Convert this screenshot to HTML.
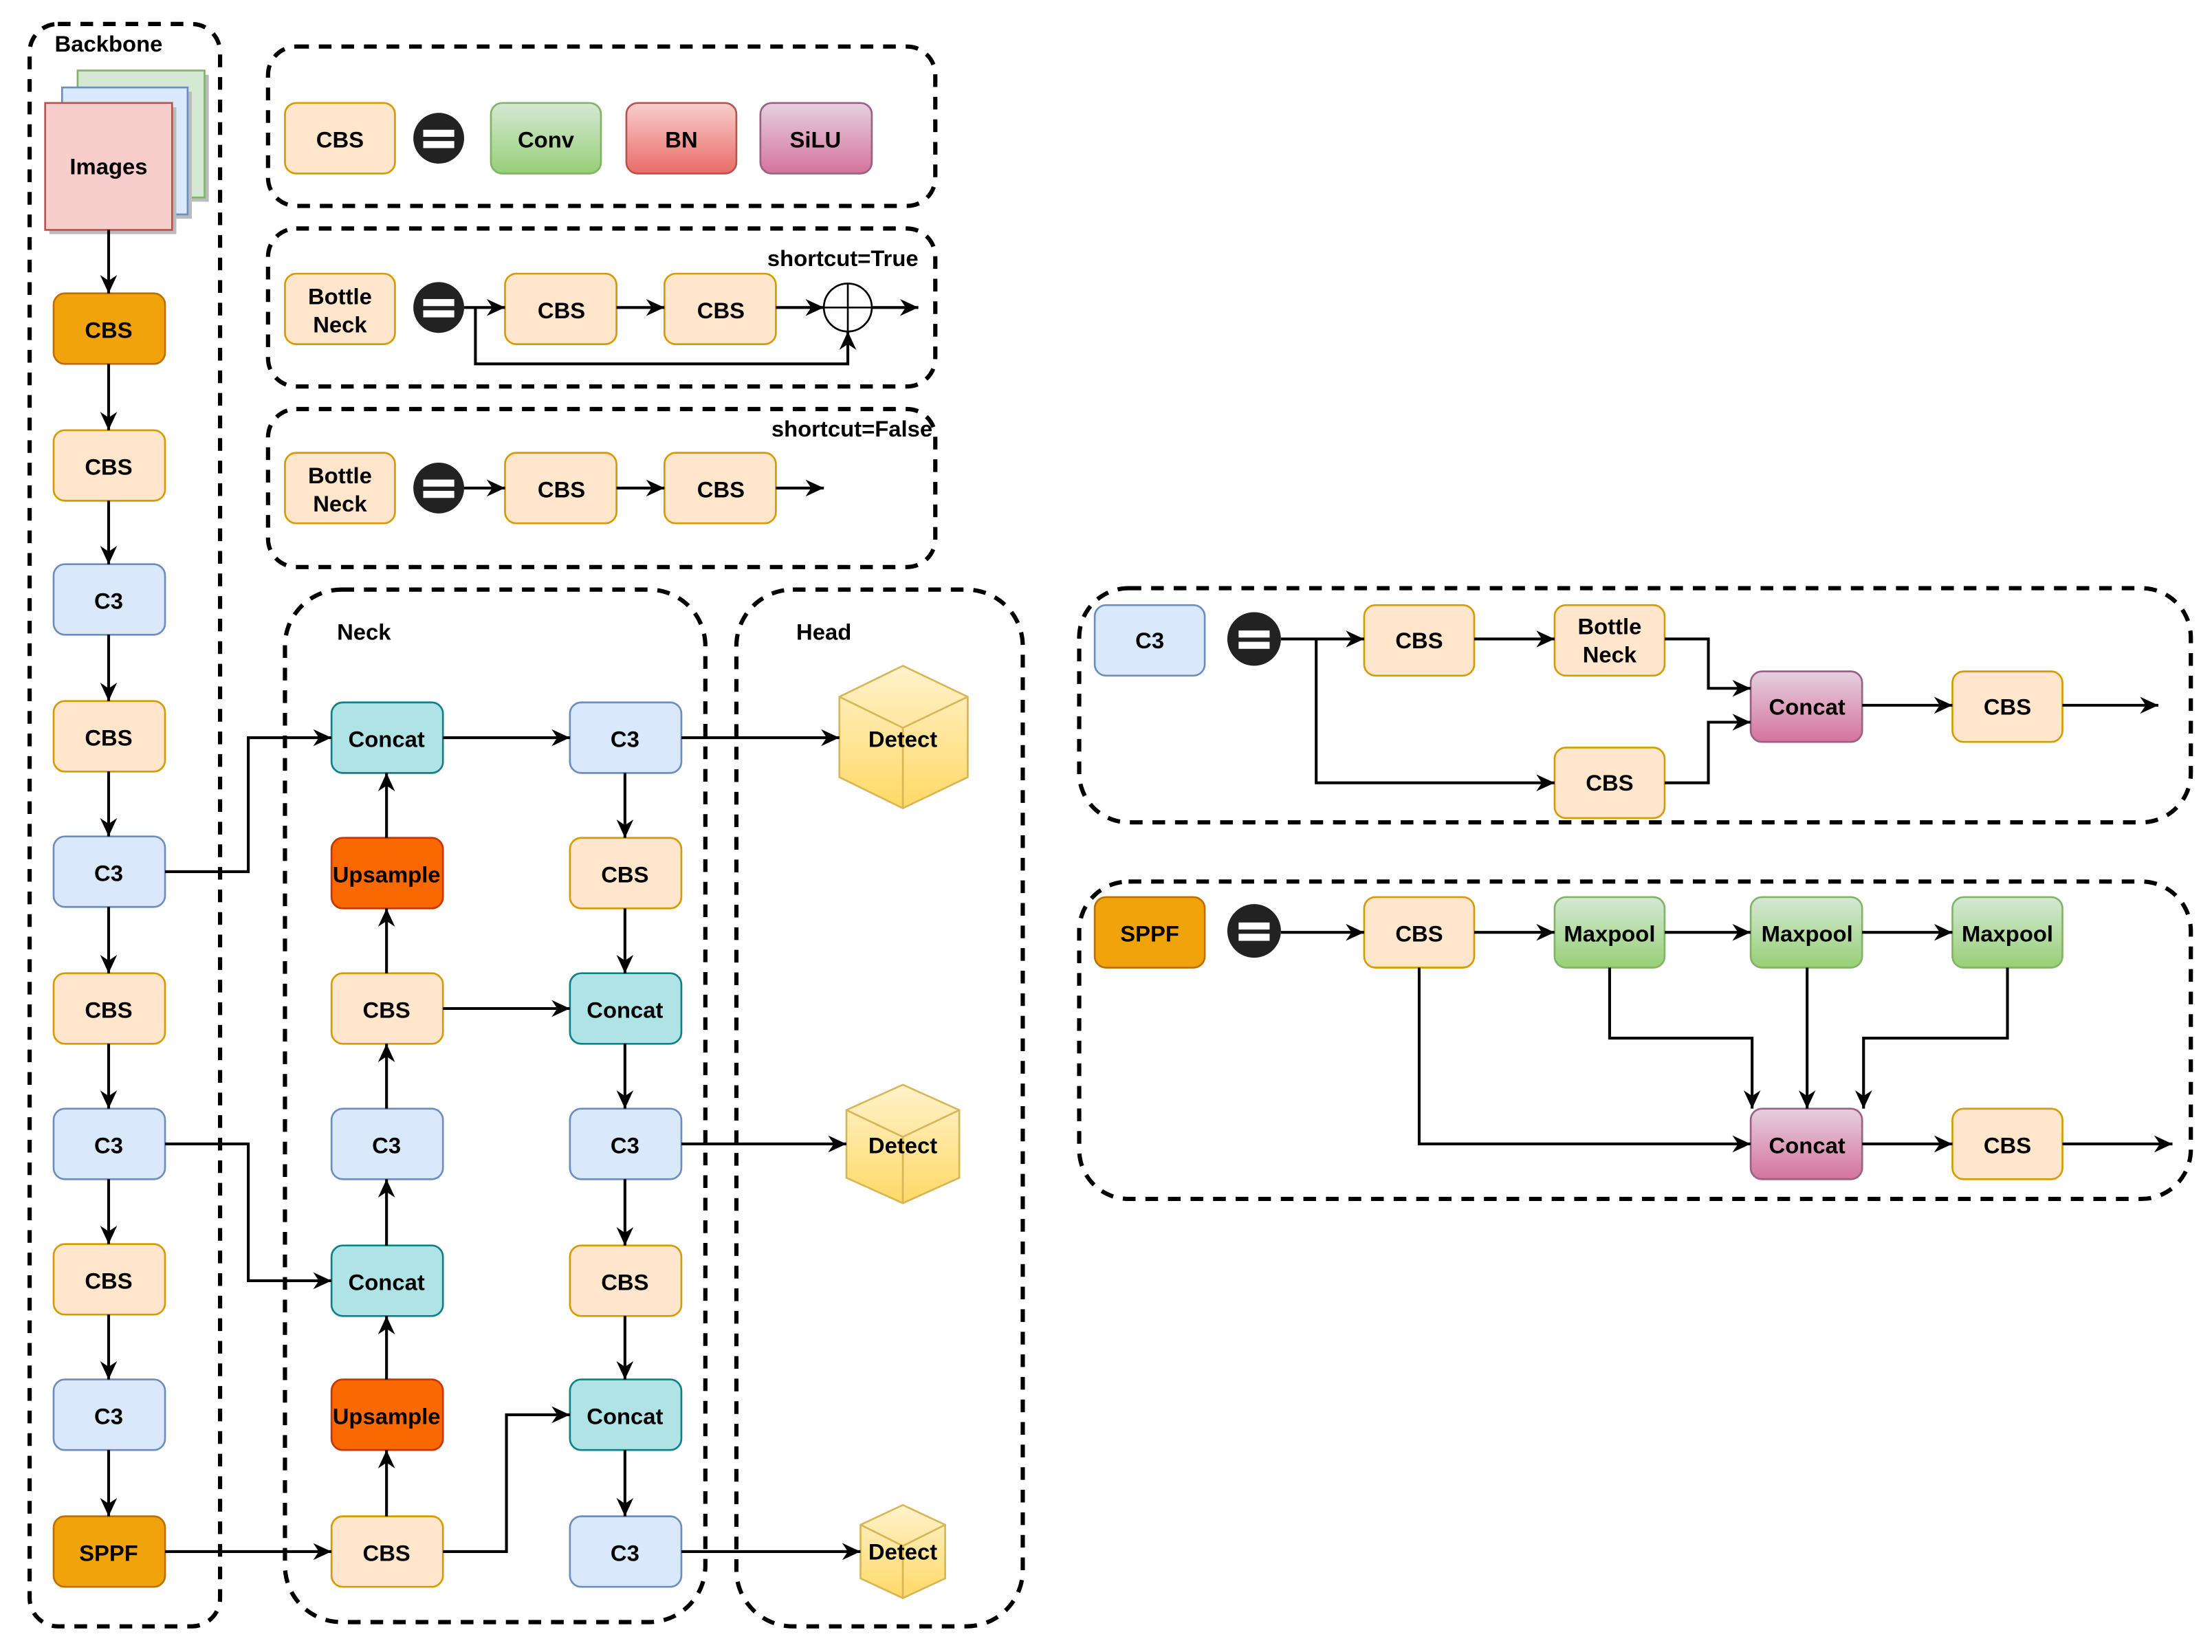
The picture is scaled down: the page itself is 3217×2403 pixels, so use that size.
<!DOCTYPE html>
<html><head><meta charset="utf-8"><style>
html,body{margin:0;padding:0;background:#fff;}
svg{display:block;}
text{font-family:"Liberation Sans",sans-serif;font-weight:bold;font-size:16px;text-anchor:middle;dominant-baseline:central;fill:#000;}
.d{fill:none;stroke:#000;stroke-width:3;stroke-dasharray:9 7;}
.l{fill:none;stroke:#000;stroke-width:2;}
.a{fill:none;stroke:#000;stroke-width:2;marker-end:url(#ar);}
.o{fill:#ffe6cc;stroke:#d79b00;stroke-width:1.3;}
.O{fill:#f0a30a;stroke:#bd7000;stroke-width:1.3;}
.b{fill:#dae8fc;stroke:#6c8ebf;stroke-width:1.3;}
.t{fill:#b0e3e6;stroke:#0e8088;stroke-width:1.3;}
.u{fill:#fa6800;stroke:#c73500;stroke-width:1.3;}
.g{fill:url(#gg);stroke:#82b366;stroke-width:1.3;}
.r{fill:url(#gr);stroke:#b85450;stroke-width:1.3;}
.p{fill:url(#gp);stroke:#996185;stroke-width:1.3;}
.y{fill:url(#gy);stroke:#d6b656;stroke-width:1.3;}
</style></head><body>
<svg width="3217" height="2403" viewBox="0 0 1568 1171.2" preserveAspectRatio="none" xmlns="http://www.w3.org/2000/svg">
<defs>
<marker id="ar" markerUnits="userSpaceOnUse" markerWidth="14" markerHeight="12" refX="13" refY="6" orient="auto"><path d="M0,0 L13,6 L0,12 L4,6 z" fill="#000"/></marker>
<linearGradient id="gg" x1="0" y1="0" x2="0" y2="1"><stop offset="0" stop-color="#d5e8d4"/><stop offset="1" stop-color="#97d077"/></linearGradient>
<linearGradient id="gr" x1="0" y1="0" x2="0" y2="1"><stop offset="0" stop-color="#f8cecc"/><stop offset="1" stop-color="#ea6b66"/></linearGradient>
<linearGradient id="gp" x1="0" y1="0" x2="0" y2="1"><stop offset="0" stop-color="#e6d0de"/><stop offset="1" stop-color="#d5739d"/></linearGradient>
<linearGradient id="gy" x1="0" y1="0" x2="0" y2="1"><stop offset="0" stop-color="#fff2cc"/><stop offset="1" stop-color="#ffd966"/></linearGradient>
</defs>

<!-- containers -->
<rect class="d" x="21" y="17" width="135" height="1136" rx="20"/>
<text x="77" y="31">Backbone</text>
<rect class="d" x="190" y="33" width="473" height="113" rx="20"/>
<rect class="d" x="190" y="162" width="473" height="112" rx="20"/>
<rect class="d" x="190" y="290" width="473" height="112" rx="20"/>
<rect class="d" x="202" y="418" width="298" height="732" rx="40"/>
<text x="258" y="448">Neck</text>
<rect class="d" x="522" y="418" width="203" height="735" rx="40"/>
<text x="584" y="448">Head</text>
<rect class="d" x="765" y="417" width="788" height="166" rx="35"/>
<rect class="d" x="765" y="625" width="788" height="225" rx="35"/>

<!-- images stack -->
<rect x="58" y="53" width="90" height="90" fill="#bbb"/>
<rect x="55" y="50" width="90" height="90" fill="#d5e8d4" stroke="#82b366" stroke-width="1.3"/>
<rect x="47" y="65" width="89" height="90" fill="#bbb"/>
<rect x="44" y="62" width="89" height="90" fill="#dae8fc" stroke="#6c8ebf" stroke-width="1.3"/>
<rect x="35" y="76" width="90" height="90" fill="#bbb"/>
<rect x="32" y="73" width="90" height="90" fill="#f8cecc" stroke="#b85450" stroke-width="1.3"/>
<text x="77" y="118">Images</text>

<!-- backbone nodes -->
<rect class="O" x="38" y="208" width="79" height="50" rx="8"/><text x="77" y="234">CBS</text>
<rect class="o" x="38" y="305" width="79" height="50" rx="8"/><text x="77" y="331">CBS</text>
<rect class="b" x="38" y="400" width="79" height="50" rx="8"/><text x="77" y="426">C3</text>
<rect class="o" x="38" y="497" width="79" height="50" rx="8"/><text x="77" y="523">CBS</text>
<rect class="b" x="38" y="593" width="79" height="50" rx="8"/><text x="77" y="619">C3</text>
<rect class="o" x="38" y="690" width="79" height="50" rx="8"/><text x="77" y="716">CBS</text>
<rect class="b" x="38" y="786" width="79" height="50" rx="8"/><text x="77" y="812">C3</text>
<rect class="o" x="38" y="882" width="79" height="50" rx="8"/><text x="77" y="908">CBS</text>
<rect class="b" x="38" y="978" width="79" height="50" rx="8"/><text x="77" y="1004">C3</text>
<rect class="O" x="38" y="1075" width="79" height="50" rx="8"/><text x="77" y="1101">SPPF</text>
<path class="a" d="M77,163 V208"/>
<path class="a" d="M77,258 V305"/>
<path class="a" d="M77,355 V400"/>
<path class="a" d="M77,450 V497"/>
<path class="a" d="M77,547 V593"/>
<path class="a" d="M77,643 V690"/>
<path class="a" d="M77,740 V786"/>
<path class="a" d="M77,836 V882"/>
<path class="a" d="M77,932 V978"/>
<path class="a" d="M77,1028 V1075"/>

<!-- legend box 1 -->
<rect class="o" x="202" y="73" width="78" height="50" rx="8"/><text x="241" y="99">CBS</text>
<ellipse cx="311" cy="98" rx="18" ry="18" fill="#222"/>
<rect x="300" y="92" width="22" height="5" fill="#fff"/><rect x="300" y="100" width="22" height="5" fill="#fff"/>
<rect class="g" x="348" y="73" width="78" height="50" rx="8"/><text x="387" y="99">Conv</text>
<rect class="r" x="444" y="73" width="78" height="50" rx="8"/><text x="483" y="99">BN</text>
<rect class="p" x="539" y="73" width="79" height="50" rx="8"/><text x="578" y="99">SiLU</text>

<!-- legend box 2 -->
<text x="651" y="183" style="text-anchor:end">shortcut=True</text>
<rect class="o" x="202" y="194" width="78" height="50" rx="8"/><text x="241" y="210">Bottle</text><text x="241" y="230">Neck</text>
<ellipse cx="311" cy="218" rx="18" ry="18" fill="#222"/>
<rect x="300" y="212" width="22" height="5" fill="#fff"/><rect x="300" y="220" width="22" height="5" fill="#fff"/>
<rect class="o" x="358" y="194" width="79" height="50" rx="8"/><text x="398" y="220">CBS</text>
<rect class="o" x="471" y="194" width="79" height="50" rx="8"/><text x="511" y="220">CBS</text>
<ellipse cx="601" cy="218" rx="17" ry="17" fill="#fff" stroke="#000" stroke-width="1.3"/>
<path d="M584,218 H618 M601,201 V235" stroke="#000" stroke-width="1.3"/>
<path class="a" d="M329,218 H358"/>
<path class="a" d="M437,218 H471"/>
<path class="a" d="M550,218 H584"/>
<path class="a" d="M618,218 H651"/>
<path class="a" d="M337,218 V258 H601 V235"/>

<!-- legend box 3 -->
<text x="661" y="304" style="text-anchor:end">shortcut=False</text>
<rect class="o" x="202" y="321" width="78" height="50" rx="8"/><text x="241" y="337">Bottle</text><text x="241" y="357">Neck</text>
<ellipse cx="311" cy="346" rx="18" ry="18" fill="#222"/>
<rect x="300" y="340" width="22" height="5" fill="#fff"/><rect x="300" y="348" width="22" height="5" fill="#fff"/>
<rect class="o" x="358" y="321" width="79" height="50" rx="8"/><text x="398" y="347">CBS</text>
<rect class="o" x="471" y="321" width="79" height="50" rx="8"/><text x="511" y="347">CBS</text>
<path class="a" d="M329,346 H358"/>
<path class="a" d="M437,346 H471"/>
<path class="a" d="M550,346 H584"/>

<!-- neck col 1 -->
<rect class="t" x="235" y="498" width="79" height="50" rx="8"/><text x="274" y="524">Concat</text>
<rect class="u" x="235" y="594" width="79" height="50" rx="8"/><text x="274" y="620">Upsample</text>
<rect class="o" x="235" y="690" width="79" height="50" rx="8"/><text x="274" y="716">CBS</text>
<rect class="b" x="235" y="786" width="79" height="50" rx="8"/><text x="274" y="812">C3</text>
<rect class="t" x="235" y="883" width="79" height="50" rx="8"/><text x="274" y="909">Concat</text>
<rect class="u" x="235" y="978" width="79" height="50" rx="8"/><text x="274" y="1004">Upsample</text>
<rect class="o" x="235" y="1075" width="79" height="50" rx="8"/><text x="274" y="1101">CBS</text>
<path class="a" d="M274,1075 V1028"/>
<path class="a" d="M274,978 V933"/>
<path class="a" d="M274,883 V836"/>
<path class="a" d="M274,786 V740"/>
<path class="a" d="M274,690 V644"/>
<path class="a" d="M274,594 V548"/>

<!-- neck col 2 -->
<rect class="b" x="404" y="498" width="79" height="50" rx="8"/><text x="443" y="524">C3</text>
<rect class="o" x="404" y="594" width="79" height="50" rx="8"/><text x="443" y="620">CBS</text>
<rect class="t" x="404" y="690" width="79" height="50" rx="8"/><text x="443" y="716">Concat</text>
<rect class="b" x="404" y="786" width="79" height="50" rx="8"/><text x="443" y="812">C3</text>
<rect class="o" x="404" y="883" width="79" height="50" rx="8"/><text x="443" y="909">CBS</text>
<rect class="t" x="404" y="978" width="79" height="50" rx="8"/><text x="443" y="1004">Concat</text>
<rect class="b" x="404" y="1075" width="79" height="50" rx="8"/><text x="443" y="1101">C3</text>
<path class="a" d="M443,548 V594"/>
<path class="a" d="M443,644 V690"/>
<path class="a" d="M443,740 V786"/>
<path class="a" d="M443,836 V883"/>
<path class="a" d="M443,933 V978"/>
<path class="a" d="M443,1028 V1075"/>
<path class="a" d="M314,523 H404"/>
<path class="a" d="M314,715 H404"/>
<path class="a" d="M314,1100 H359 V1003 H404"/>
<path class="a" d="M117,618 H176 V523 H235"/>
<path class="a" d="M117,811 H176 V908 H235"/>
<path class="a" d="M117,1100 H235"/>

<!-- head cubes -->
<polygon class="y" points="640,472 686,494 686,551 640,573 595,551 595,494"/>
<path d="M595,494 L640,516 L686,494 M640,516 V573" fill="none" stroke="#d6b656" stroke-width="1.3"/>
<text x="640" y="524">Detect</text>
<polygon class="y" points="640,769 680,787 680,835 640,853 600,835 600,787"/>
<path d="M600,787 L640,806 L680,787 M640,806 V853" fill="none" stroke="#d6b656" stroke-width="1.3"/>
<text x="640" y="812">Detect</text>
<polygon class="y" points="640,1067 670,1081 670,1119 640,1133 610,1119 610,1081"/>
<path d="M610,1081 L640,1096 L670,1081 M640,1096 V1133" fill="none" stroke="#d6b656" stroke-width="1.3"/>
<text x="640" y="1100">Detect</text>
<path class="a" d="M483,523 H595"/>
<path class="a" d="M483,811 H600"/>
<path class="a" d="M483,1100 H610"/>

<!-- C3 detail -->
<rect class="b" x="776" y="429" width="78" height="50" rx="8"/><text x="815" y="454">C3</text>
<ellipse cx="889" cy="453" rx="19" ry="19" fill="#222"/>
<rect x="878" y="447" width="22" height="5" fill="#fff"/><rect x="878" y="455" width="22" height="5" fill="#fff"/>
<rect class="o" x="967" y="429" width="78" height="50" rx="8"/><text x="1006" y="454">CBS</text>
<rect class="o" x="1102" y="429" width="78" height="50" rx="8"/><text x="1141" y="444">Bottle</text><text x="1141" y="464">Neck</text>
<rect class="p" x="1241" y="476" width="79" height="50" rx="8"/><text x="1281" y="501">Concat</text>
<rect class="o" x="1384" y="476" width="78" height="50" rx="8"/><text x="1423" y="501">CBS</text>
<rect class="o" x="1102" y="530" width="78" height="50" rx="8"/><text x="1141" y="555">CBS</text>
<path class="a" d="M908,453 H967"/>
<path class="a" d="M933,453 V555 H1102"/>
<path class="a" d="M1045,453 H1102"/>
<path class="a" d="M1180,453 H1211 V488 H1241"/>
<path class="a" d="M1180,555 H1211 V512 H1241"/>
<path class="a" d="M1320,500 H1384"/>
<path class="a" d="M1462,500 H1530"/>

<!-- SPPF detail -->
<rect class="O" x="776" y="636" width="78" height="50" rx="8"/><text x="815" y="662">SPPF</text>
<ellipse cx="889" cy="660" rx="19" ry="19" fill="#222"/>
<rect x="878" y="654" width="22" height="5" fill="#fff"/><rect x="878" y="662" width="22" height="5" fill="#fff"/>
<rect class="o" x="967" y="636" width="78" height="50" rx="8"/><text x="1006" y="662">CBS</text>
<rect class="g" x="1102" y="636" width="78" height="50" rx="8"/><text x="1141" y="662">Maxpool</text>
<rect class="g" x="1241" y="636" width="79" height="50" rx="8"/><text x="1281" y="662">Maxpool</text>
<rect class="g" x="1384" y="636" width="78" height="50" rx="8"/><text x="1423" y="662">Maxpool</text>
<rect class="p" x="1241" y="786" width="79" height="50" rx="8"/><text x="1281" y="812">Concat</text>
<rect class="o" x="1384" y="786" width="78" height="50" rx="8"/><text x="1423" y="812">CBS</text>
<path class="a" d="M908,661 H967"/>
<path class="a" d="M1045,661 H1102"/>
<path class="a" d="M1180,661 H1241"/>
<path class="a" d="M1320,661 H1384"/>
<path class="a" d="M1006,686 V811 H1241"/>
<path class="a" d="M1141,686 V736 H1242 V786"/>
<path class="a" d="M1281,686 V786"/>
<path class="a" d="M1423,686 V736 H1321 V786"/>
<path class="a" d="M1320,811 H1384"/>
<path class="a" d="M1462,811 H1540"/>
</svg>
</body></html>
